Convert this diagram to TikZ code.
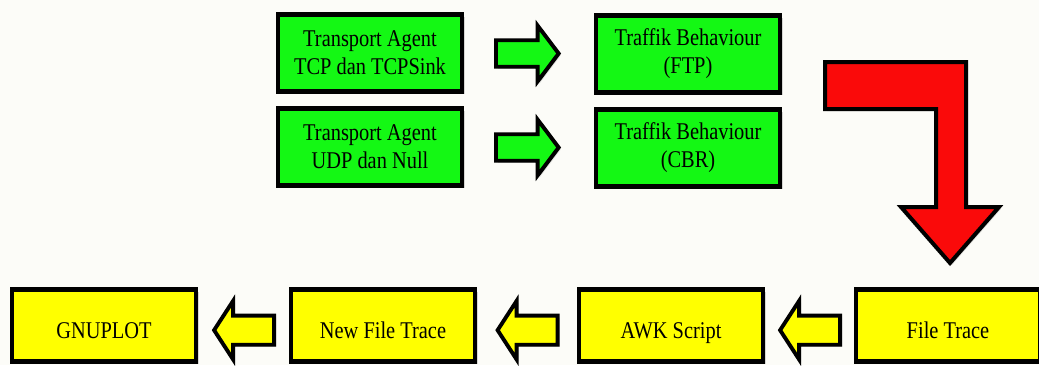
\documentclass[tikz,border=0pt]{standalone}
\usepackage{fontspec}
\setmainfont{Liberation Serif}[FakeStretch=0.85]
\usetikzlibrary{shapes.arrows,shadows,calc}

\definecolor{boxgreen}{RGB}{20,248,20}
\definecolor{boxyellow}{RGB}{255,255,0}
\definecolor{arrowred}{RGB}{250,10,10}
\definecolor{paper}{RGB}{252,252,248}

\tikzset{
  box/.style={draw=black, line width=3.3pt, minimum width=138pt, minimum height=58pt,
    align=center, inner sep=0pt, font=\fontsize{18}{21}\selectfont,
    drop shadow={opacity=.3, shadow xshift=2pt, shadow yshift=-2pt}},
  greenbox/.style={box, fill=boxgreen},
  yellowbox/.style={box, fill=boxyellow, minimum height=54pt, text height=20pt, text depth=0pt},
  flowarrow/.style={single arrow, draw=black, line width=2.9pt, inner xsep=0pt,
    minimum width=0pt, drop shadow={opacity=.25, shadow xshift=1.5pt, shadow yshift=-1.5pt}},
  greenarrow/.style={flowarrow, fill=boxgreen, inner ysep=8.5pt, minimum height=47pt,
    single arrow head extend=11pt, single arrow tip angle=106, xshift=-5pt},
  yellowarrow/.style={flowarrow, fill=boxyellow, inner ysep=9.5pt, minimum height=45pt,
    single arrow head extend=11pt, single arrow tip angle=114, shape border rotate=180,
    xshift=4pt, yshift=-3.5pt}
}

\begin{document}
\begin{tikzpicture}[x=0.75pt, y=-0.75pt]
    %frame
    \fill[paper] (0,0) rectangle (1039,365);
    \useasboundingbox (0,0) rectangle (1039,365);
    %boxes
    \node[greenbox] (tcp) at (370,53) {Transport Agent\\TCP dan TCPSink};
    \node[greenbox] (udp) at (370,147) {Transport Agent\\UDP dan Null};
    \node[greenbox] (ftp) at (688,54) {Traffik Behaviour\\(FTP)};
    \node[greenbox] (cbr) at (688,148) {Traffik Behaviour\\(CBR)};
    \node[yellowbox] (gnuplot) at (104,325.5) {GNUPLOT};
    \node[yellowbox] (newtrace) at (383,325.5) {New File Trace};
    \node[yellowbox] (awk) at (671,325.5) {AWK Script};
    \node[yellowbox] (trace) at (948,325.5) {File Trace};
    %arrows
    \node[greenarrow] (a1) at ($(tcp.east)!.5!(ftp.west)$) {};
    \node[greenarrow] (a2) at ($(udp.east)!.5!(cbr.west)$) {};
    \node[yellowarrow] (a3) at ($(trace.west)!.5!(awk.east)$) {};
    \node[yellowarrow] (a4) at ($(awk.west)!.5!(newtrace.east)$) {};
    \node[yellowarrow] (a5) at ($(newtrace.west)!.5!(gnuplot.east)$) {};
    %bent arrow
    \draw[fill=arrowred, line width=3pt, line join=miter,
      drop shadow={opacity=.25, shadow xshift=1.5pt, shadow yshift=-1.5pt}]
      (825,62) -- (966,62) -- (966,207) -- (999,207) -- (950,263) -- (901,207)
      -- (936,207) -- (936,109) -- (825,109) -- cycle;
\end{tikzpicture}
\end{document}
